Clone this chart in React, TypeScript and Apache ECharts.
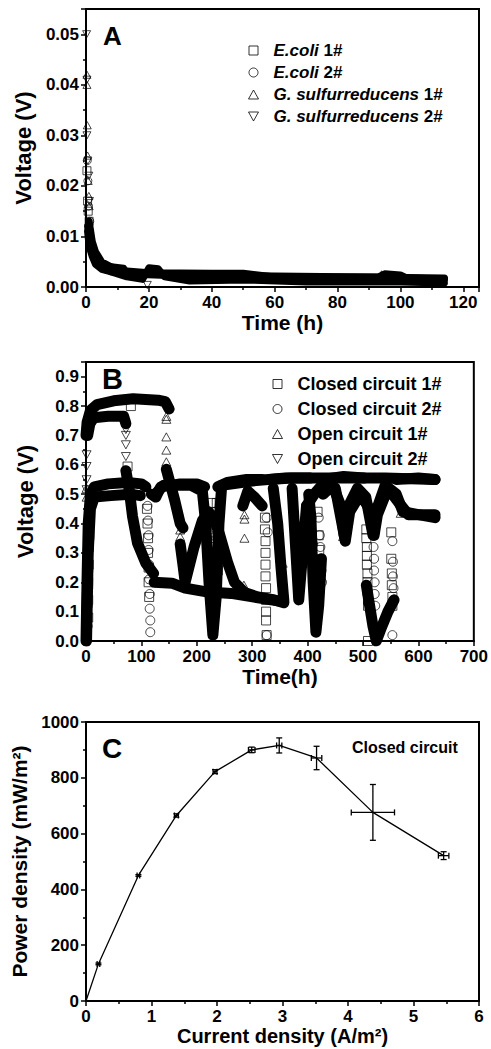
import React, { useEffect, useRef } from "react";
import * as echarts from "echarts";

const FONT = "'Liberation Sans', Arial, Helvetica, sans-serif";
const SYM_SQUARE = "path://M0,0 L10,0 L10,10 L0,10 Z";
const SYM_UP = "path://M5,0 L10,9 L0,9 Z";
const SYM_DOWN = "path://M0,0 L10,0 L5,9 Z";

// ---------------- Panel A: voltage decay ----------------
const aNames = ["E.coli 1#", "E.coli 2#", "G. sulfurreducens 1#", "G. sulfurreducens 2#"];
const aXTicks = { min: 0, max: 125, interval: 20 };
const aYTicks = { min: 0, max: 0.055, interval: 0.01 };

const aEcoli1Marks = [[0.3, 0.023], [0.5, 0.017], [0.7, 0.015], [1.0, 0.013]];
const aEcoli1Band = [[0.5, 0.012], [1, 0.0095], [2, 0.007], [3, 0.0055], [5, 0.0045], [8, 0.004], [12, 0.0037], [13, 0.0025], [30, 0.0024], [60, 0.0022], [90, 0.002], [114, 0.0018]];
const aEcoli2Marks = [[0.4, 0.025], [0.6, 0.021], [0.8, 0.016], [1.2, 0.013]];
const aEcoli2Band = [[0.5, 0.011], [1, 0.008], [2, 0.006], [3, 0.0045], [5, 0.0035], [8, 0.003], [15, 0.0025], [40, 0.002], [80, 0.0017], [114, 0.0015]];
const aGeo1Marks = [[0.3, 0.042], [0.3, 0.040], [0.4, 0.032], [0.5, 0.026], [0.7, 0.021], [0.9, 0.018], [1.0, 0.016], [94, 0.0025]];
const aGeo1Band = [[1, 0.013], [2, 0.009], [3, 0.007], [5, 0.005], [8, 0.004], [12, 0.0032], [20, 0.0028], [40, 0.0027], [50, 0.0027], [60, 0.002], [93, 0.002], [95, 0.0026], [100, 0.0024], [102, 0.0018], [114, 0.0016]];
const aGeo2Marks = [[0.2, 0.050], [0.3, 0.041], [0.3, 0.030], [0.6, 0.025], [0.9, 0.022], [1.1, 0.017], [19.5, 0.0004]];
const aGeo2Band = [[1, 0.012], [2, 0.008], [3, 0.006], [5, 0.004], [8, 0.003], [13, 0.002], [18, 0.0015], [20, 0.0038], [23, 0.0036], [25, 0.002], [33, 0.0012], [50, 0.0014], [70, 0.001], [100, 0.001], [114, 0.0008]];

// ---------------- Panel B: closed vs open circuit ----------------
const bNames = ["Closed circuit 1#", "Closed circuit 2#", "Open circuit 1#", "Open circuit 2#"];
const bXTicks = { min: 0, max: 700, interval: 100 };
const bYTicks = { min: 0, max: 0.95, interval: 0.1 };

const bClosed1Bands = [
  [[0, 0.0], [2, 0.22], [4, 0.4], [8, 0.5], [15, 0.525], [40, 0.535], [75, 0.54], [100, 0.535], [108, 0.525]],
  [[118, 0.5], [126, 0.49], [135, 0.525], [170, 0.535], [200, 0.535], [214, 0.525]],
  [[238, 0.525], [255, 0.54], [290, 0.55], [318, 0.55]],
  [[332, 0.55], [370, 0.555], [405, 0.555]],
  [[428, 0.55], [465, 0.56], [502, 0.555]],
  [[560, 0.55], [600, 0.555], [630, 0.55]],
];
const bClosed1Marks = [
  [75, 0.594], [81, 0.80],
  [4, 0.08], [4, 0.14], [4, 0.2], [5, 0.26], [5, 0.32], [6, 0.36],
  [110, 0.45], [111, 0.40], [112, 0.35], [112, 0.30], [113, 0.25], [113, 0.20], [114, 0.15],
  [225, 0.47], [226, 0.42], [226, 0.37], [227, 0.32], [227, 0.27], [228, 0.22], [228, 0.17], [229, 0.12],
  [236, 0.47], [237, 0.42], [237, 0.36], [238, 0.30], [238, 0.24],
  [323, 0.42], [323, 0.38], [324, 0.34], [324, 0.30], [324, 0.26], [324, 0.22], [325, 0.18], [325, 0.14], [325, 0.10], [325, 0.07], [326, 0.02],
  [418, 0.44], [420, 0.36], [421, 0.31], [422, 0.27], [422, 0.23], [423, 0.20],
  [506, 0.38], [506, 0.35], [507, 0.32], [507, 0.29], [507, 0.26], [508, 0.23], [508, 0.20], [508, 0.17], [509, 0.14], [509, 0.12], [509, 0.0],
  [551, 0.37], [551, 0.28], [552, 0.23], [552, 0.19], [553, 0.15], [553, 0.12],
];
const bClosed2Bands = [
  [[1, 0.0], [4, 0.3], [8, 0.45], [15, 0.49], [45, 0.495], [80, 0.5], [98, 0.495]],
  [[125, 0.5], [140, 0.53], [190, 0.53], [210, 0.51], [216, 0.4], [222, 0.2], [229, 0.02], [235, 0.15], [240, 0.4], [245, 0.53], [300, 0.545], [360, 0.555], [420, 0.555], [480, 0.555], [540, 0.555], [630, 0.55]],
  [[402, 0.5], [406, 0.42], [410, 0.2], [415, 0.03], [420, 0.12], [425, 0.28]],
  [[506, 0.19], [512, 0.12], [518, 0.05], [524, 0.0], [532, 0.04], [545, 0.1], [556, 0.14]],
];
const bClosed2Marks = [
  [3, 0.05], [3, 0.12], [4, 0.18], [4, 0.24],
  [111, 0.46], [112, 0.41], [113, 0.36], [113, 0.31], [114, 0.26], [114, 0.21], [115, 0.16], [115, 0.11], [116, 0.07], [116, 0.03],
  [224, 0.43], [224, 0.38], [225, 0.33], [225, 0.28], [226, 0.23], [226, 0.18], [227, 0.13], [234, 0.44], [235, 0.38],
  [326, 0.42], [328, 0.37], [326, 0.02],
  [407, 0.42], [408, 0.37], [410, 0.33], [411, 0.28], [412, 0.24], [420, 0.42], [422, 0.36], [423, 0.32], [424, 0.28], [425, 0.24], [426, 0.20],
  [519, 0.36], [519, 0.32], [520, 0.28], [520, 0.24], [521, 0.20], [521, 0.16], [522, 0.12],
  [553, 0.34], [554, 0.27], [554, 0.22], [555, 0.18], [555, 0.14], [553, 0.02],
];
const bOpen1Bands = [
  [[0, 0.70], [2, 0.745], [8, 0.785], [20, 0.805], [50, 0.818], [85, 0.825], [130, 0.82], [143, 0.815], [150, 0.79]],
  [[145, 0.585], [150, 0.55], [160, 0.48], [170, 0.40], [175, 0.385]],
  [[170, 0.33], [175, 0.26], [179, 0.2], [195, 0.32], [210, 0.41], [221, 0.44], [230, 0.42], [240, 0.37], [256, 0.265], [268, 0.2], [286, 0.165], [310, 0.15], [340, 0.14], [357, 0.13]],
  [[283, 0.46], [292, 0.51], [304, 0.49], [318, 0.46]],
  [[338, 0.52], [346, 0.4], [352, 0.25], [357, 0.14]],
  [[372, 0.52], [378, 0.33], [384, 0.14], [392, 0.32], [398, 0.46]],
  [[428, 0.5], [445, 0.53], [458, 0.47], [466, 0.36], [474, 0.46], [490, 0.52], [505, 0.49], [518, 0.36], [527, 0.46], [540, 0.53], [560, 0.5], [572, 0.44], [600, 0.43], [630, 0.42]],
];
const bOpen1Marks = [
  [1, 0.52], [1, 0.49], [145, 0.765], [145, 0.755], [145, 0.695], [145, 0.65], [145, 0.61],
  [170, 0.378], [170, 0.355], [286, 0.43], [286, 0.415], [286, 0.35], [285, 0.19], [355, 0.265],
  [390, 0.37], [390, 0.35], [464, 0.356], [568, 0.435],
];
const bOpen2Bands = [
  [[3, 0.70], [7, 0.74], [14, 0.76], [40, 0.765], [68, 0.765], [72, 0.74]],
  [[72, 0.58], [78, 0.515], [84, 0.424], [93, 0.333], [108, 0.265], [122, 0.23]],
  [[123, 0.2], [155, 0.197], [179, 0.18], [215, 0.168], [262, 0.162], [298, 0.151], [334, 0.14], [357, 0.134]],
  [[398, 0.46], [412, 0.5], [428, 0.535], [450, 0.52], [462, 0.4], [468, 0.34], [476, 0.44], [495, 0.5], [515, 0.44], [520, 0.36], [526, 0.43], [545, 0.52], [565, 0.47], [582, 0.43], [630, 0.43]],
];
const bOpen2Marks = [[1, 0.634], [1, 0.594], [1, 0.549], [1, 0.515], [72, 0.72], [72, 0.70], [72, 0.668], [72, 0.628]];

// ---------------- Panel C: power density curve ----------------
const cXTicks = { min: 0, max: 6, interval: 1 };
const cYTicks = { min: 0, max: 1000, interval: 200 };
const currentDensity = [0, 0.19, 0.8, 1.38, 1.97, 2.53, 2.95, 3.52, 4.38, 5.46];
const powerDensity = [0, 133, 450, 665, 822, 900, 916, 871, 676, 521];
const currentErr = [0, 0.02, 0.02, 0.03, 0.03, 0.05, 0.04, 0.08, 0.33, 0.08];
const powerErr = [0, 3, 3, 6, 7, 10, 27, 42, 100, 14];

const SYMBOLS = [SYM_SQUARE, "circle", SYM_UP, SYM_DOWN];

function axis(t: { min: number; max: number; interval: number }, gridIndex: number, name: string, nameGap: number, fmt: (v: number) => string, nameSize: number) {
  return {
    type: "value",
    gridIndex,
    min: t.min,
    max: t.max,
    interval: t.interval,
    name,
    nameLocation: "middle",
    nameGap,
    nameTextStyle: { fontFamily: FONT, fontWeight: "bold", fontSize: nameSize, color: "#000" },
    axisLine: { show: true, onZero: false, lineStyle: { color: "#000", width: 2 } },
    axisTick: { show: true, inside: false, length: 5, lineStyle: { color: "#000", width: 1.5 } },
    minorTick: { show: true, splitNumber: 2, length: 3, lineStyle: { color: "#000", width: 1.5 } },
    splitLine: { show: false },
    minorSplitLine: { show: false },
    axisLabel: {
      fontFamily: FONT, fontWeight: "bold", fontSize: 17, color: "#000", margin: 7,
      formatter: (v: number) => {
        const k = v / t.interval;
        return Math.abs(k - Math.round(k)) < 1e-6 ? fmt(v) : "";
      },
    },
  };
}

function bandSeries(name: string, data: number[][], idx: number, width: number) {
  return {
    type: "line",
    name: name + " band",
    xAxisIndex: idx,
    yAxisIndex: idx,
    data,
    symbol: "none",
    showSymbol: false,
    silent: true,
    z: 2,
    lineStyle: { color: "#000", width, cap: "round", join: "round" },
  };
}

function markSeries(name: string, data: number[][], idx: number, symbol: string, size: number) {
  return {
    type: "scatter",
    name,
    xAxisIndex: idx,
    yAxisIndex: idx,
    data,
    symbol,
    symbolSize: size,
    symbolKeepAspect: true,
    z: 3,
    itemStyle: { color: "rgba(0,0,0,0)", borderColor: "#000", borderWidth: 0.9 },
  };
}

export default function App() {
  const ref = useRef<HTMLDivElement>(null);
  useEffect(() => {
    if (!ref.current) return;
    const chart = echarts.init(ref.current, undefined, { renderer: "svg" });

    const aMarks = [aEcoli1Marks, aEcoli2Marks, aGeo1Marks, aGeo2Marks];
    const aBands = [aEcoli1Band, aEcoli2Band, aGeo1Band, aGeo2Band];
    const bMarks = [bClosed1Marks, bClosed2Marks, bOpen1Marks, bOpen2Marks];
    const bBands = [bClosed1Bands, bClosed2Bands, bOpen1Bands, bOpen2Bands];

    const series: any[] = [];
    aNames.forEach((n, i) => {
      series.push(bandSeries(n, aBands[i], 0, 7));
      series.push(markSeries(n, aMarks[i], 0, SYMBOLS[i], 8));
    });
    bNames.forEach((n, i) => {
      bBands[i].forEach((seg, j) => series.push(bandSeries(n + " " + j, seg, 1, 11)));
      series.push(markSeries(n, bMarks[i], 1, SYMBOLS[i], 9));
    });
    series.push({
      type: "line",
      name: "Closed circuit",
      xAxisIndex: 2,
      yAxisIndex: 2,
      data: currentDensity.map((x, i) => [x, powerDensity[i]]),
      symbol: "none",
      lineStyle: { color: "#000", width: 1.3 },
      z: 2,
    });
    series.push({
      type: "custom",
      name: "error",
      xAxisIndex: 2,
      yAxisIndex: 2,
      z: 3,
      data: currentDensity.map((x, i) => [x, powerDensity[i], currentErr[i], powerErr[i]]).filter((d) => d[0] > 0),
      encode: { x: 0, y: 1 },
      renderItem: (params: any, api: any) => {
        const x = api.value(0), y = api.value(1), ex = api.value(2), ey = api.value(3);
        const top = api.coord([x, y + ey]);
        const bot = api.coord([x, y - ey]);
        const l = api.coord([x - ex, y]);
        const r = api.coord([x + ex, y]);
        const c = 3;
        const st = { stroke: "#000", lineWidth: 1.3 };
        const ch: any[] = [];
        ch.push({ type: "line", shape: { x1: top[0], y1: top[1], x2: bot[0], y2: bot[1] }, style: st });
        ch.push({ type: "line", shape: { x1: top[0] - c, y1: top[1], x2: top[0] + c, y2: top[1] }, style: st });
        ch.push({ type: "line", shape: { x1: bot[0] - c, y1: bot[1], x2: bot[0] + c, y2: bot[1] }, style: st });
        ch.push({ type: "line", shape: { x1: l[0], y1: l[1], x2: r[0], y2: r[1] }, style: st });
        ch.push({ type: "line", shape: { x1: l[0], y1: l[1] - c, x2: l[0], y2: l[1] + c }, style: st });
        ch.push({ type: "line", shape: { x1: r[0], y1: r[1] - c, x2: r[0], y2: r[1] + c }, style: st });
        return { type: "group", children: ch };
      },
    });

    const hollow = { color: "rgba(0,0,0,0)", borderColor: "#000", borderWidth: 1 };
    const legendText = (size: number) => ({ fontFamily: FONT, fontWeight: "bold", fontSize: size, color: "#000", lineHeight: size });

    const option: any = {
      animation: false,
      backgroundColor: "#fff",
      grid: [
        { left: 86, top: 9, width: 393, height: 278, show: true, borderColor: "#000", borderWidth: 2 },
        { left: 86, top: 362, width: 393, height: 279, show: true, borderColor: "#000", borderWidth: 2 },
        { left: 86, top: 722, width: 393, height: 279, show: true, borderColor: "#000", borderWidth: 2 },
      ],
      xAxis: [
        axis(aXTicks, 0, "Time (h)", 24, (v) => String(v), 21),
        axis(bXTicks, 1, "Time(h)", 22, (v) => String(v), 21),
        axis(cXTicks, 2, "Current density (A/m²)", 24, (v) => String(v), 20),
      ],
      yAxis: [
        axis(aYTicks, 0, "Voltage (V)", 52, (v) => v.toFixed(2), 22),
        axis(bYTicks, 1, "Voltage (V)", 50, (v) => v.toFixed(1), 22),
        axis(cYTicks, 2, "Power density (mW/m²)", 48, (v) => String(v), 21),
      ],
      legend: [
        {
          orient: "vertical",
          left: 243,
          top: 37,
          itemWidth: 30,
          itemHeight: 9,
          itemGap: 5,
          selectedMode: false,
          data: aNames.map((n, i) => ({ name: n, icon: SYMBOLS[i], itemStyle: hollow })),
          textStyle: {
            ...legendText(17),
            rich: {
              i: { fontFamily: FONT, fontWeight: "bold", fontStyle: "italic", fontSize: 17, color: "#000" },
              b: { fontFamily: FONT, fontWeight: "bold", fontSize: 17, color: "#000" },
            },
          },
          formatter: (name: string) => {
            const m = name.match(/^(.*) (\d#)$/);
            return m ? `{i|${m[1]}} {b|${m[2]}}` : name;
          },
        },
        {
          orient: "vertical",
          left: 267,
          top: 370,
          itemWidth: 30,
          itemHeight: 9,
          itemGap: 7,
          selectedMode: false,
          data: bNames.map((n, i) => ({ name: n, icon: SYMBOLS[i], itemStyle: hollow })),
          textStyle: legendText(18),
        },
      ],
      graphic: [
        { type: "text", left: 103, top: 23, style: { text: "A", fontFamily: FONT, fontWeight: "bold", fontSize: 26, fill: "#000" } },
        { type: "text", left: 102, top: 364, style: { text: "B", fontFamily: FONT, fontWeight: "bold", fontSize: 29, fill: "#000" } },
        { type: "text", left: 102, top: 734, style: { text: "C", fontFamily: FONT, fontWeight: "bold", fontSize: 28, fill: "#000" } },
        { type: "text", left: 352, top: 739, style: { text: "Closed circuit", fontFamily: FONT, fontWeight: "bold", fontSize: 16, fill: "#000" } },
      ],
      series,
    };
    chart.setOption(option);
    return () => chart.dispose();
  }, []);
  return <div ref={ref} style={{ position: "fixed", left: 0, top: 0, width: 491, height: 1049, background: "#fff" }} />;
}
